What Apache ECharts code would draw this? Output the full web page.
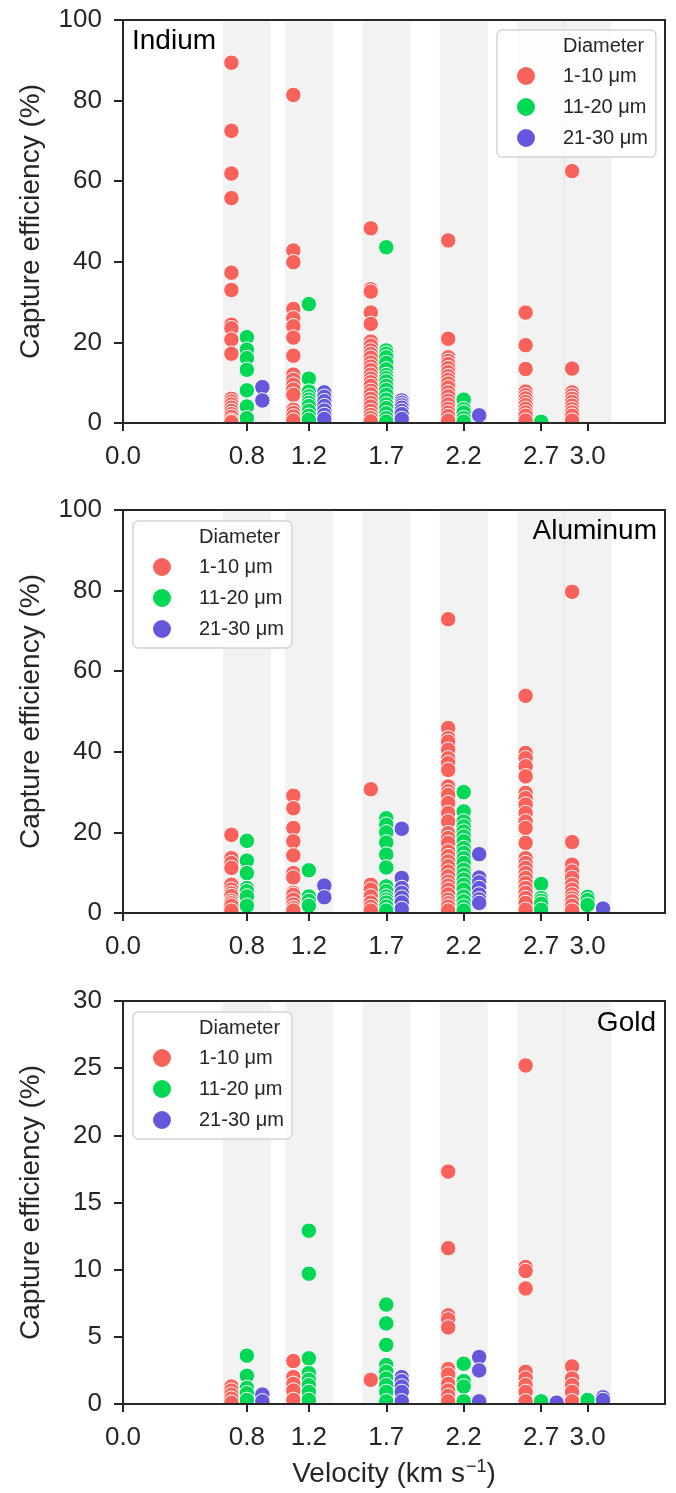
<!DOCTYPE html>
<html>
<head>
<meta charset="utf-8">
<script src="https://cdn.jsdelivr.net/npm/echarts@6/dist/echarts.min.js"></script>
<style>
  html, body { margin: 0; padding: 0; background: #fff; }
  #chart { width: 676px; height: 1493px; }
</style>
</head>
<body>
<div id="chart"></div>
<script>
// velocity groups (km/s) and the three diameter classes
const velocities = [0.8, 1.2, 1.7, 2.2, 2.7, 3.0];
const groups = ['1-10 μm', '11-20 μm', '21-30 μm'];
const groupOffsets = [-0.1, 0, 0.1];   // dodge
const groupColors = ['#f9615b', '#00d856', '#6457db'];
const xTicks = [0, 0.8, 1.2, 1.7, 2.2, 2.7, 3.0];

// Indium, one list per velocity
const indiumSmall = [
  [89.4, 72.5, 61.9, 55.8, 37.3, 33.0, 24.4, 23.5, 20.7, 17.2, 6.0, 5.3, 4.6, 3.8, 3.0, 2.2, 1.5, 0.6, 0.2],
  [81.4, 42.8, 39.9, 28.3, 26.0, 24.0, 21.2, 16.7, 12.0, 10.7, 9.5, 8.3, 7.0, 3.3, 2.5, 1.6, 0.6],
  [48.3, 33.2, 32.6, 27.4, 24.6, 20.2, 19.2, 18.0, 17.1, 16.2, 15.0, 14.0, 13.1, 12.0, 11.0, 10.1, 9.2, 8.0, 7.1, 6.0, 5.0, 4.1, 3.0, 2.0, 1.2, 0.4],
  [45.3, 20.9, 16.3, 15.4, 14.6, 13.6, 12.6, 11.6, 10.7, 9.8, 8.8, 7.6, 6.6, 5.5, 4.6, 3.5, 2.6, 1.7, 0.6],
  [27.4, 19.3, 13.4, 7.8, 6.9, 6.1, 5.2, 4.4, 3.5, 2.6, 1.8, 0.6],
  [62.5, 13.5, 7.6, 6.8, 6.0, 5.2, 4.3, 3.4, 2.6, 1.8, 0.6]
];
const indiumMedium = [
  [21.3, 18.2, 16.1, 13.2, 8.1, 4.1, 1.2],
  [29.5, 11.0, 7.8, 6.6, 5.8, 5.0, 4.2, 3.0, 1.8, 0.8],
  [43.6, 18.0, 17.2, 16.3, 14.9, 13.3, 11.9, 11.1, 10.3, 9.2, 8.2, 7.0, 5.8, 4.6, 3.7, 2.4, 1.2, 0.3],
  [5.8, 3.4, 2.6, 1.2, 0.3],
  [0.3],
  []
];
const indiumLarge = [
  [8.9, 5.6],
  [7.6, 6.5, 5.4, 4.2, 3.1, 2.0, 1.0],
  [5.6, 5.0, 4.4, 3.8, 3.0, 2.2, 1.0],
  [1.9],
  [],
  []
];

// Aluminum
const aluminumSmall = [
  [19.4, 13.6, 12.4, 11.2, 7.0, 5.8, 4.9, 4.2, 3.0, 2.4, 1.8, 0.6],
  [29.1, 26.0, 21.1, 17.8, 14.3, 9.9, 8.8, 5.0, 4.5, 3.3, 2.1, 1.2, 0.6],
  [30.7, 7.0, 5.8, 4.1, 2.6, 1.5, 0.6],
  [72.9, 45.9, 43.4, 42.5, 40.5, 38.4, 37.2, 35.5, 31.4, 30.2, 29.3, 27.3, 24.8, 22.7, 19.8, 18.6, 17.4, 15.3, 14.1, 12.8, 11.6, 10.3, 9.1, 7.8, 6.8, 5.8, 4.6, 3.3, 2.4, 1.6, 0.6],
  [53.9, 39.7, 38.4, 36.4, 33.9, 29.8, 28.5, 26.9, 24.8, 22.7, 21.1, 17.4, 13.6, 12.4, 11.2, 9.9, 8.7, 7.4, 6.2, 5.0, 3.7, 2.5, 0.8],
  [79.7, 17.6, 12.0, 10.3, 8.7, 7.0, 5.8, 4.6, 3.6, 2.9, 1.8, 0.6]
];
const aluminumMedium = [
  [17.9, 13.0, 9.9, 6.2, 5.4, 4.1, 1.8],
  [10.6, 4.1, 3.0, 1.8],
  [23.5, 21.9, 20.0, 17.5, 14.5, 11.3, 6.6, 5.4, 4.1, 3.3, 2.6, 1.6, 0.6],
  [30.0, 25.2, 22.7, 21.5, 20.2, 19.0, 17.8, 16.1, 14.9, 13.6, 12.4, 10.7, 9.5, 8.3, 7.0, 5.8, 4.1, 2.9, 1.6, 0.6],
  [7.2, 3.7, 3.0, 2.3, 0.8],
  [4.0, 3.2, 2.0]
];
const aluminumLarge = [
  [],
  [6.8, 3.9],
  [20.9, 8.7, 6.2, 5.0, 3.8, 2.6, 1.0],
  [14.6, 8.8, 7.6, 6.2, 4.6, 3.4, 2.5],
  [],
  [1.1]
];

// Gold
const goldSmall = [
  [1.3, 1.0, 0.7, 0.4, 0.1],
  [3.2, 2.0, 1.5, 1.0, 0.3],
  [1.8],
  [17.3, 11.6, 6.6, 6.3, 5.7, 2.6, 2.2, 1.5, 1.0, 0.6, 0.2],
  [25.2, 10.2, 9.9, 8.6, 2.4, 1.9, 1.4, 0.9, 0.2],
  [2.8, 1.9, 1.4, 0.9, 0.2]
];
const goldMedium = [
  [3.6, 2.1, 1.2, 0.8, 0.3],
  [12.9, 9.7, 3.4, 2.3, 1.8, 1.4, 0.9, 0.3],
  [7.4, 6.0, 4.4, 2.9, 2.4, 1.9, 1.4, 0.9, 0.2],
  [3.0, 1.7, 1.3, 0.2],
  [0.2],
  [0.3]
];
const goldLarge = [
  [0.7, 0.2],
  [],
  [2.0, 1.7, 1.3, 0.9, 0.2],
  [3.5, 2.5, 0.2],
  [0.1],
  [0.5, 0.3]
];

const panels = [
  { name: 'Indium', sets: [indiumSmall, indiumMedium, indiumLarge], max: 100, interval: 20,
    top: 20, legend: { left: 497, top: 30 }, label: { left: 132, top: 27 } },
  { name: 'Aluminum', sets: [aluminumSmall, aluminumMedium, aluminumLarge], max: 100, interval: 20,
    top: 510, legend: { left: 133, top: 521 }, label: { right: 19, top: 517 } },
  { name: 'Gold', sets: [goldSmall, goldMedium, goldLarge], max: 30, interval: 5,
    top: 1001, legend: { left: 133, top: 1012 }, label: { right: 20, top: 1009 } }
];

const FONT = '"Liberation Sans", Arial, sans-serif';
const INK = '#262626';
const PLOT_H = 403;

const grid = [], xAxis = [], yAxis = [], series = [], legend = [], title = [], graphic = [];

panels.forEach(function (p, pi) {
  grid.push({ left: 123, right: 11, top: p.top, height: PLOT_H, show: true,
    borderColor: INK, borderWidth: 2, backgroundColor: 'transparent' });

  xAxis.push({
    gridIndex: pi, type: 'value', min: 0, max: 3.5, z: 10,
    name: pi === 2 ? 'Velocity (km s{sup|−1})' : '',
    nameLocation: 'middle', nameGap: 54,
    nameTextStyle: { fontSize: 28, color: INK, fontFamily: FONT,
      rich: { sup: { fontSize: 18, color: INK, fontFamily: FONT, verticalAlign: 'top', padding: [0, 0, 14, 1] } } },
    splitLine: { show: false },
    axisLine: { show: true, lineStyle: { color: INK, width: 2 } },
    axisTick: { show: true, length: 8, lineStyle: { color: INK, width: 2 }, customValues: xTicks },
    axisLabel: { fontSize: 26, color: INK, fontFamily: FONT, margin: 21, customValues: xTicks,
      formatter: function (v) { return v.toFixed(1); } }
  });

  yAxis.push({
    gridIndex: pi, type: 'value', min: 0, max: p.max, interval: p.interval, z: 10,
    name: 'Capture efficiency (%)', nameLocation: 'middle', nameGap: 78,
    nameTextStyle: { fontSize: 28, color: INK, fontFamily: FONT },
    splitLine: { show: false },
    axisLine: { show: true, lineStyle: { color: INK, width: 2 } },
    axisTick: { show: true, length: 9, lineStyle: { color: INK, width: 2 } },
    axisLabel: { fontSize: 26, color: INK, fontFamily: FONT, margin: 21 }
  });

  p.sets.forEach(function (set, gi) {
    const data = [];
    velocities.forEach(function (v, vi) {
      set[vi].forEach(function (y) { data.push([v + groupOffsets[gi], y]); });
    });
    const s = {
      name: groups[gi], type: 'scatter', xAxisIndex: pi, yAxisIndex: pi,
      symbol: 'circle', symbolSize: 15.5, z: 2 + gi,
      itemStyle: { color: groupColors[gi], borderColor: '#fff', borderWidth: 1, opacity: 1 },
      emphasis: { disabled: true },
      data: data
    };
    if (gi === 0) {
      s.markArea = {
        silent: true,
        itemStyle: { color: 'rgba(128,128,128,0.1)' },
        data: velocities.map(function (v) { return [{ xAxis: v - 0.155 }, { xAxis: v + 0.155 }]; })
      };
    }
    series.push(s);
  });

  legend.push(Object.assign({
    orient: 'vertical', padding: [6, 8, 8, 18], itemGap: 9, itemWidth: 20, itemHeight: 20,
    backgroundColor: 'rgba(255,255,255,0.8)', borderColor: '#d4d4d4', borderWidth: 1.5, borderRadius: 5,
    selectedMode: false,
    textStyle: { fontSize: 20, color: INK, fontFamily: FONT, lineHeight: 20, padding: [0, 0, 0, 22] },
    data: [{ name: 'Diameter', icon: 'circle', itemStyle: { opacity: 0 } }]
      .concat(groups.map(function (g) { return { name: g, icon: 'circle' }; }))
  }, p.legend));

  title.push(Object.assign({
    text: p.name, padding: 0,
    textStyle: { fontSize: 28, fontWeight: 'normal', color: '#000', fontFamily: FONT }
  }, p.label));

  // hide the part of the markers that falls below the x axis (clip)
  graphic.push({ type: 'rect', z: 8, silent: true,
    shape: { x: 118, y: p.top + PLOT_H + 1, width: 552, height: 9 },
    style: { fill: '#fff' } });
});

// invisible series for the legend heading
series.push({ name: 'Diameter', type: 'scatter', xAxisIndex: 0, yAxisIndex: 0, data: [] });

const chart = echarts.init(document.getElementById('chart'), null, { renderer: 'canvas' });
chart.setOption({
  backgroundColor: '#fff',
  animation: false,
  textStyle: { fontFamily: FONT },
  grid: grid, xAxis: xAxis, yAxis: yAxis, series: series,
  legend: legend, title: title, graphic: graphic
});
</script>
</body>
</html>
